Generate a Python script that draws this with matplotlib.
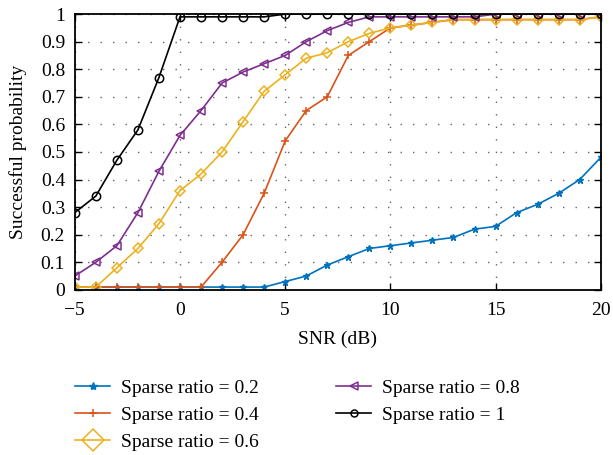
import matplotlib.pyplot as plt
import numpy as np

plt.rcParams['font.family'] = ['Liberation Serif', 'DejaVu Serif']

snr = np.arange(-5, 21)

# success probability for each sparse ratio
p_02 = [0.01, 0.01, 0.01, 0.01, 0.01, 0.01, 0.01, 0.01, 0.01, 0.01,
        0.03, 0.05, 0.09, 0.12, 0.15, 0.16, 0.17, 0.18, 0.19, 0.22,
        0.23, 0.28, 0.31, 0.35, 0.40, 0.48]
p_04 = [0.01, 0.01, 0.01, 0.01, 0.01, 0.01, 0.01, 0.10, 0.20, 0.35,
        0.54, 0.65, 0.70, 0.85, 0.90, 0.95, 0.96, 0.97, 0.98, 0.98,
        0.98, 0.98, 0.98, 0.98, 0.98, 0.99]
p_06 = [0.01, 0.01, 0.08, 0.15, 0.24, 0.36, 0.42, 0.50, 0.61, 0.72,
        0.78, 0.84, 0.86, 0.90, 0.93, 0.95, 0.96, 0.97, 0.98, 0.98,
        0.98, 0.98, 0.98, 0.98, 0.98, 0.99]
p_08 = [0.05, 0.10, 0.16, 0.28, 0.43, 0.56, 0.65, 0.75, 0.79, 0.82,
        0.85, 0.90, 0.94, 0.97, 0.99, 0.99, 0.99, 0.99, 0.99, 0.99,
        1.00, 1.00, 1.00, 1.00, 1.00, 1.00]
p_10 = [0.28, 0.34, 0.47, 0.58, 0.77, 0.99, 0.99, 0.99, 0.99, 0.99,
        1.00, 1.00, 1.00, 1.00, 1.00, 1.00, 1.00, 1.00, 1.00, 1.00,
        1.00, 1.00, 1.00, 1.00, 1.00, 1.00]

labels = ['Sparse ratio = 0.2', 'Sparse ratio = 0.4', 'Sparse ratio = 0.6',
          'Sparse ratio = 0.8', 'Sparse ratio = 1']

fig = plt.figure(figsize=(6.13, 4.55), dpi=100)
ax = fig.add_axes([0.122, 0.363, 0.858, 0.606])

ax.plot(snr, p_02, color='#0072BD', marker='*', ms=5, lw=1.2, label=labels[0])
ax.plot(snr, p_04, color='#D95319', marker='+', ms=6, mew=1.1, lw=1.2, label=labels[1])
ax.plot(snr, p_06, color='#EDB120', marker='D', ms=5, mfc='none', mew=1.1, lw=1.2, label=labels[2])
ax.plot(snr, p_08, color='#7E2F8E', marker='<', ms=6, mfc='none', mew=1.1, lw=1.2, label=labels[3])
ax.plot(snr, p_10, color='black', marker='o', ms=6, mfc='none', mew=1.1, lw=1.2, label=labels[4])

ax.set_xlim(-5, 20)
ax.set_ylim(0, 1)
ax.set_xticks([-5, 0, 5, 10, 15, 20])
ax.set_xticklabels(['\u22125', '0', '5', '10', '15', '20'])
ax.set_yticks(np.arange(0, 1.01, 0.1))
ax.set_yticklabels(['0', '0.1', '0.2', '0.3', '0.4', '0.5', '0.6', '0.7', '0.8', '0.9', '1'])
ax.tick_params(direction='in', top=True, right=True, labelsize=14, length=5, width=1)
ax.tick_params(axis='x', pad=9)
ax.tick_params(axis='y', pad=7)
ax.grid(True, linestyle=(0, (1, 8)), color='#666666', linewidth=1)
for s in ax.spines.values():
    s.set_linewidth(1.3)

ax.set_xlabel('SNR (dB)', fontsize=14, labelpad=8)
ax.set_ylabel('Successful probability', fontsize=14, labelpad=10)

leg = fig.legend(loc='upper left', bbox_to_anchor=(0.094, 0.205), ncol=2, frameon=False,
                 fontsize=14, handlelength=1.8, handletextpad=0.55, columnspacing=4.0,
                 labelspacing=0.48)
leg.legend_handles[0].set_markersize(6)
leg.legend_handles[2].set_markersize(11)
leg.legend_handles[4].set_markersize(5)

fig.savefig('out.png', dpi=100)
